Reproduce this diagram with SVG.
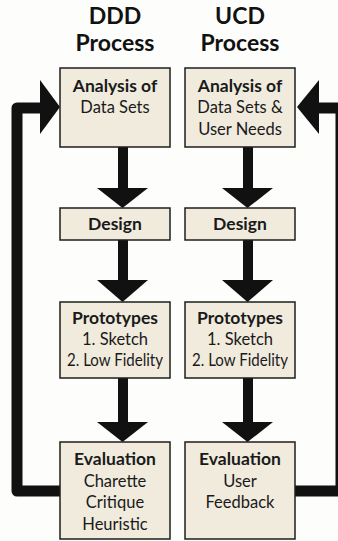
<svg xmlns="http://www.w3.org/2000/svg" width="338" height="541" viewBox="0 0 338 541">
<style>
.box{fill:#F0EBDD;stroke:#1E1E1E;stroke-width:1.5}
.t{font-family:Lato,"Open Sans","Liberation Sans",sans-serif;font-size:16.5px;fill:#1A1A1A;text-anchor:middle}
.b{font-weight:bold;font-size:17.5px}
.title{font-family:Lato,"Open Sans","Liberation Sans",sans-serif;font-size:23px;font-weight:bold;fill:#111;text-anchor:middle}
.stem{fill:#111}
.loop{fill:none;stroke:#111;stroke-width:11;stroke-linejoin:round}
</style>
<rect x="0" y="0" width="338" height="541" fill="#FDFDFB"/>
<g id="titles">
<text class="title" x="115" y="24">DDD</text>
<text class="title" x="115" y="51">Process</text>
<text class="title" x="240" y="24">UCD</text>
<text class="title" x="240" y="51">Process</text>
</g>
<g id="connectors">
<path class="loop" d="M60 491 H17 V108 H44"/>
<polygon class="stem" points="40,80 60,107 40,134"/>
<path class="loop" d="M295 491 H341 V108 H316"/>
<polygon class="stem" points="319,80 297,107 319,134"/>
<rect class="stem" x="118" y="147" width="10" height="42"/>
<polygon class="stem" points="97,188 148,188 122.5,208"/>
<rect class="stem" x="118" y="240" width="10" height="41"/>
<polygon class="stem" points="97,280 148,280 122.5,302"/>
<rect class="stem" x="118" y="378" width="10" height="45"/>
<polygon class="stem" points="97,422 148,422 122.5,442"/>
<rect class="stem" x="243" y="147" width="10" height="42"/>
<polygon class="stem" points="222,188 273,188 247.5,208"/>
<rect class="stem" x="243" y="240" width="10" height="41"/>
<polygon class="stem" points="222,280 273,280 247.5,302"/>
<rect class="stem" x="243" y="378" width="10" height="45"/>
<polygon class="stem" points="222,422 273,422 247.5,442"/>
</g>
<g id="ddd-analysis">
<rect class="box" x="60" y="68" width="110" height="79"/>
<text class="t b" x="115" y="92">Analysis of</text>
<text class="t" x="115" y="113">Data Sets</text>
</g>
<g id="ddd-design">
<rect class="box" x="60" y="208" width="110" height="32"/>
<text class="t b" x="115" y="230">Design</text>
</g>
<g id="ddd-prototypes">
<rect class="box" x="60" y="302" width="110" height="76"/>
<text class="t b" x="115" y="324">Prototypes</text>
<text class="t" x="115" y="345">1. Sketch</text>
<text class="t" x="115" y="366" textLength="96" lengthAdjust="spacingAndGlyphs">2. Low Fidelity</text>
</g>
<g id="ddd-evaluation">
<rect class="box" x="60" y="442" width="110" height="97"/>
<text class="t b" x="115" y="465">Evaluation</text>
<text class="t" x="115" y="487">Charette</text>
<text class="t" x="115" y="508">Critique</text>
<text class="t" x="115" y="530">Heuristic</text>
</g>
<g id="ucd-analysis">
<rect class="box" x="185" y="68" width="110" height="79"/>
<text class="t b" x="240" y="92">Analysis of</text>
<text class="t" x="240" y="113">Data Sets &amp;</text>
<text class="t" x="240" y="135">User Needs</text>
</g>
<g id="ucd-design">
<rect class="box" x="185" y="208" width="110" height="32"/>
<text class="t b" x="240" y="230">Design</text>
</g>
<g id="ucd-prototypes">
<rect class="box" x="185" y="302" width="110" height="76"/>
<text class="t b" x="240" y="324">Prototypes</text>
<text class="t" x="240" y="345">1. Sketch</text>
<text class="t" x="240" y="366" textLength="96" lengthAdjust="spacingAndGlyphs">2. Low Fidelity</text>
</g>
<g id="ucd-evaluation">
<rect class="box" x="185" y="442" width="110" height="97"/>
<text class="t b" x="240" y="465">Evaluation</text>
<text class="t" x="240" y="487">User</text>
<text class="t" x="240" y="508">Feedback</text>
</g>
</svg>
